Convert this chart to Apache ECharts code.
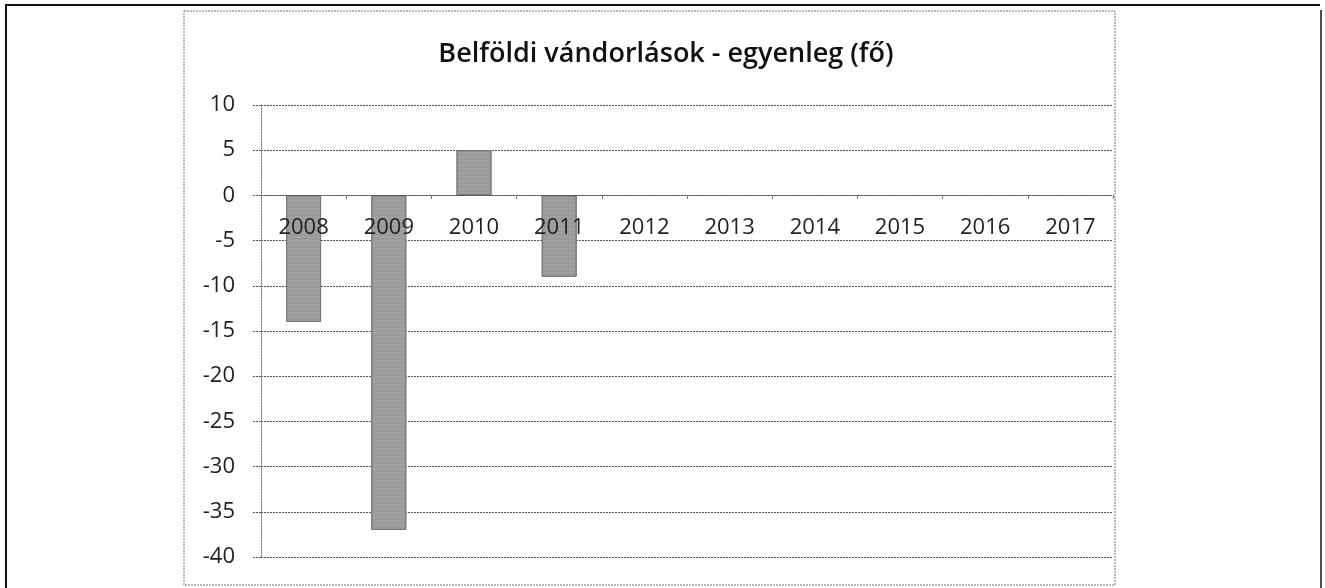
<!DOCTYPE html>
<html>
<head>
<meta charset="utf-8">
<script src="https://cdn.jsdelivr.net/npm/echarts@6/dist/echarts.min.js"></script>
<style>
  html, body { margin: 0; padding: 0; background: #fff; }
  #chart { width: 1325px; height: 588px; }
</style>
</head>
<body>
<div id="chart"></div>
<script>
// adatok
var years = ['2008', '2009', '2010', '2011', '2012', '2013', '2014', '2015', '2016', '2017'];
var balance = [-14, -37, 5, -9, null, null, null, null, null, null];
var titleText = 'Belföldi vándorlások - egyenleg (fő)';

var chart = echarts.init(document.getElementById('chart'));

var dotted = { color: '#555', width: 1, type: [2, 1] };

var option = {
    backgroundColor: '#fff',
    animation: false,
    title: {
        text: titleText,
        left: 661,
        textAlign: 'center',
        top: 36,
        textStyle: { fontFamily: 'Open Sans', fontSize: 27, fontWeight: 600, color: '#111' }
    },
    graphic: [
        // outer page frame
        { type: 'line', z: 100, shape: { x1: 5, y1: 5, x2: 1320, y2: 5 }, style: { stroke: '#111', lineWidth: 2 } },
        { type: 'line', z: 100, shape: { x1: 6, y1: 5, x2: 6, y2: 588 }, style: { stroke: '#111', lineWidth: 2 } },
        { type: 'line', z: 100, shape: { x1: 1321, y1: 10, x2: 1321, y2: 588 }, style: { stroke: '#111', lineWidth: 1.5 } },
        // chart frame
        { type: 'rect', z: 100, shape: { x: 184, y: 11, width: 931, height: 574 },
          style: { fill: 'none', stroke: '#777', lineWidth: 1, lineDash: [2, 1] } }
    ],
    grid: { left: 261, right: 212, top: 105, bottom: 31 },
    xAxis: {
        type: 'category',
        data: years,
        position: 'bottom',
        offset: -362,
        z: 5,
        axisLine: { onZero: false, lineStyle: dotted },
        axisTick: { show: true, length: 4, lineStyle: { color: '#777' } },
        axisLabel: { margin: 22, fontFamily: 'Open Sans', fontSize: 22, color: '#222' },
        splitLine: { show: false }
    },
    yAxis: {
        type: 'value',
        min: -40,
        max: 10,
        interval: 5,
        axisLine: { show: true, lineStyle: { color: '#888', width: 1, type: [2, 1] } },
        axisTick: { show: true, length: 9, lineStyle: dotted },
        axisLabel: { margin: 26, fontFamily: 'Open Sans', fontSize: 22, color: '#222' },
        splitLine: { show: true, lineStyle: dotted }
    },
    series: [{
        type: 'bar',
        data: balance,
        barWidth: '41%',
        itemStyle: {
            color: '#9a9a9a',
            borderColor: '#777',
            borderWidth: 1,
            decal: { symbol: 'rect', symbolSize: 0.5, dashArrayX: [1, 0], dashArrayY: [2, 2], color: 'rgba(255,255,255,0.25)' }
        }
    }]
};

chart.setOption(option);
</script>
</body>
</html>
